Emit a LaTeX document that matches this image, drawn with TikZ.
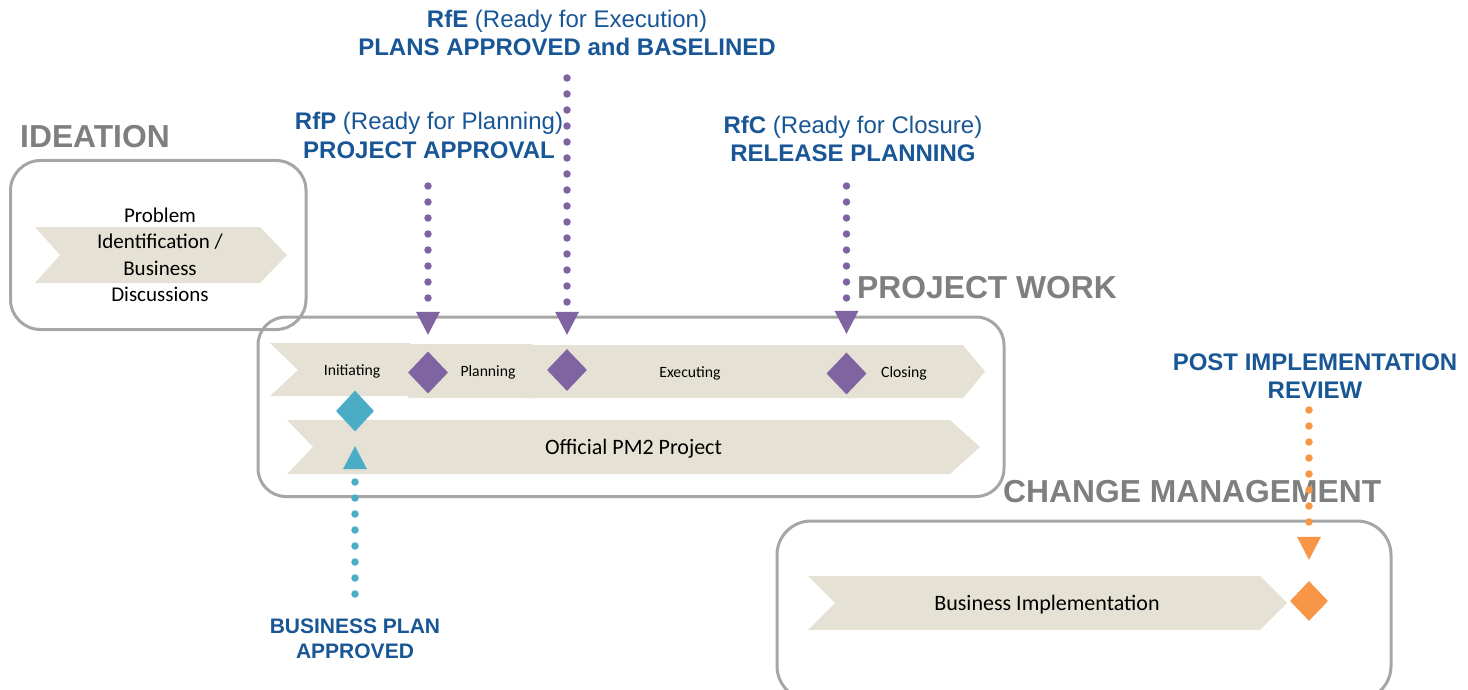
\documentclass[tikz,border=0pt]{standalone}
\usepackage{fontspec}
\setmainfont{Carlito}
\newfontfamily\arialf{Liberation Sans}
\usetikzlibrary{shapes.geometric,arrows.meta}
\definecolor{chev}{RGB}{229,225,212}
\definecolor{boxgray}{RGB}{166,166,166}
\definecolor{titlegray}{RGB}{127,127,127}
\definecolor{lblblue}{RGB}{24,86,150}
\definecolor{mpurple}{RGB}{128,100,162}
\definecolor{mteal}{RGB}{75,172,198}
\definecolor{morange}{RGB}{247,150,70}
\tikzset{
  boxline/.style={draw=boxgray, line width=3pt, rounded corners=30pt},
  chevfill/.style={fill=chev},
  ttl/.style={font=\arialf\bfseries\fontsize{31.8}{38}\selectfont, text=titlegray, inner sep=0pt, anchor=base west},
  lbl/.style={font=\arialf\fontsize{24}{28.5}\selectfont, text=lblblue, align=center, inner sep=0pt},
  stxt/.style={font=\fontsize{15.7}{19}\selectfont, inner sep=0pt, anchor=base},
  mtxt/.style={font=\fontsize{22}{26}\selectfont, inner sep=0pt, anchor=base},
  dia/.style={diamond, inner sep=0pt, minimum width=40pt, minimum height=42pt},
  dotline/.style={line width=7.5pt, line cap=round, dash pattern=on 0pt off 16pt,
    -{Triangle[width=24pt,length=23pt,line width=0pt]}}
}
\begin{document}
\begin{tikzpicture}[x=1pt,y=-1pt]
\useasboundingbox (0,0) rectangle (1468,690);

% boxes
\draw[boxline] (10.5,160.5) rectangle (306,329.5);
\draw[boxline, rounded corners=28pt] (258,317) rectangle (1004,496.5);
\draw[boxline, rounded corners=34pt] (777,521) rectangle (1391,700);

% chevrons
\fill[chevfill] (35,227) -- (260,227) -- (287,255) -- (260,283) -- (35,283) -- (60,255) -- cycle;
\fill[chevfill] (270,343) -- (410,343) -- (437,370) -- (410,396) -- (270,396) -- (298,370) -- cycle;
\fill[chevfill] (407,344) -- (532,344) -- (559,371) -- (532,398) -- (407,398) -- (434,371) -- cycle;
\fill[chevfill] (527,345) -- (963,345) -- (985,371.5) -- (963,398) -- (527,398) -- (554,371.5) -- cycle;
\fill[chevfill] (287,420) -- (950,420) -- (980,447) -- (950,474) -- (287,474) -- (313,447) -- cycle;
\fill[chevfill] (808,576) -- (1260,576) -- (1287,603) -- (1260,630) -- (808,630) -- (835,603) -- cycle;

% titles
\node[ttl] (tIdea) at (20,148) {IDEATION};
\node[ttl] (tWork) at (857,298) {PROJECT WORK};
\node[ttl] (tChange) at (1003,502) {CHANGE MANAGEMENT};

% texts in chevrons
\node[font=\fontsize{21}{26.5}\selectfont, align=center, inner sep=0pt] (tProb) at (160,255)
  {Problem\\Identification /\\Business\\Discussions};
\node[stxt] (tInit) at (352,375) {Initiating};
\node[stxt] (tPlan) at (488,376) {Planning};
\node[stxt] (tExec) at (690,377) {Executing};
\node[stxt] (tClos) at (904,377) {Closing};
\node[mtxt] (tOff) at (633.5,454) {Official PM2 Project};
\node[mtxt] (tBI) at (1047,610) {Business Implementation};

% milestone labels
\node[lbl] (lRfE) at (567,33) {\textbf{RfE} (Ready for Execution)\\\textbf{PLANS APPROVED and BASELINED}};
\node[lbl] (lRfP) at (429,135.5) {\textbf{RfP} (Ready for Planning)\\\textbf{PROJECT APPROVAL}};
\node[lbl] (lRfC) at (853,139) {\textbf{RfC} (Ready for Closure)\\\textbf{RELEASE PLANNING}};
\node[lbl, font=\arialf\bfseries\fontsize{24}{28}\selectfont] (lPIR) at (1315,376.5) {POST IMPLEMENTATION\\REVIEW};
\node[lbl, font=\arialf\bfseries\fontsize{21}{24.5}\selectfont] (lBPA) at (355,639) {BUSINESS PLAN\\APPROVED};

% diamonds
\node[dia, fill=mpurple] (dP) at (428,372.5) {};
\node[dia, fill=mpurple] (dE) at (567,370) {};
\node[dia, fill=mpurple] (dC) at (846.5,373.5) {};
\node[dia, fill=mteal, minimum width=38pt, minimum height=41pt] (dT) at (355,411) {};
\node[dia, fill=morange, minimum width=38pt, minimum height=40pt] (dO) at (1309,601) {};

% connector start points
\coordinate (sP) at (428,186);
\coordinate (sE) at (567,78);
\coordinate (sC) at (846.5,186);
\coordinate (sT) at (355,594);
\coordinate (sO) at (1309,410);

% dotted connectors
\draw[dotline, mpurple, shorten >=16.5pt] (sP) -- (dP);
\draw[dotline, mpurple, shorten >=14pt] (sE) -- (dE);
\draw[dotline, mpurple, shorten >=18.5pt] (sC) -- (dC);
\draw[dotline, mteal, shorten >=14.5pt] (sT) -- (dT);
\draw[dotline, morange, shorten >=21pt] (sO) -- (dO);
\end{tikzpicture}
\end{document}
